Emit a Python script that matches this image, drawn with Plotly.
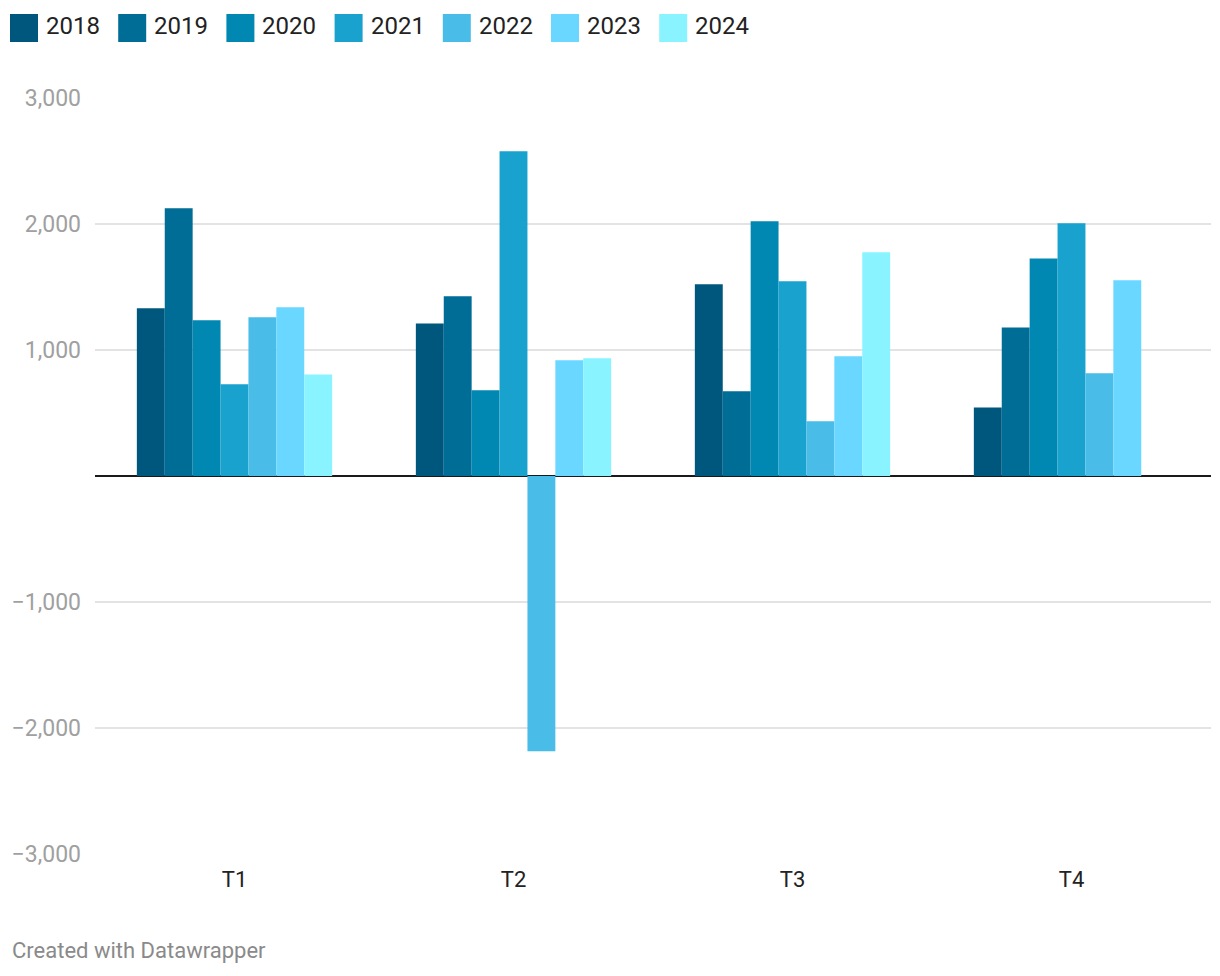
import plotly.graph_objects as go

categories = ["T1", "T2", "T3", "T4"]
years = ["2018", "2019", "2020", "2021", "2022", "2023", "2024"]
colors = ["#00577d", "#006d96", "#0087b2", "#1aa2ce", "#49bce8", "#69d7ff", "#89f4ff"]

v2018 = [1331, 1210, 1522, 543]
v2019 = [2125, 1426, 672, 1179]
v2020 = [1236, 680, 2022, 1727]
v2021 = [728, 2577, 1545, 2005]
v2022 = [1260, -2185, 434, 816]
v2023 = [1339, 918, 950, 1553]
v2024 = [806, 934, 1775, None]
series = [v2018, v2019, v2020, v2021, v2022, v2023, v2024]

y_ticks = [-3000, -2000, -1000, 1000, 2000, 3000]

FONT = "Roboto"
W, H = 1220, 976
PL, PR, PT, PB = 95, 1211, 98, 854
PW, PH = PR - PL, PB - PT


def px(x):
    return (x - PL) / PW


def py(y):
    return (PB - y) / PH


fig = go.Figure()
for name, col, vals in zip(years, colors, series):
    fig.add_trace(go.Bar(
        x=categories, y=vals, name=name,
        marker=dict(color=col, line=dict(width=0)),
        showlegend=False,
    ))

# custom legend (rectangles + labels)
leg_x0, leg_step = 10, 108.2
for i, (name, col) in enumerate(zip(years, colors)):
    x0 = leg_x0 + i * leg_step
    fig.add_shape(type="rect", xref="paper", yref="paper",
                  x0=px(x0), x1=px(x0 + 28),
                  y0=py(42), y1=py(14),
                  fillcolor=col, line=dict(width=0), layer="above")
    fig.add_annotation(text=name, xref="paper", yref="paper",
                       x=px(x0 + 34), y=py(26),
                       xanchor="left", yanchor="middle", showarrow=False,
                       font=dict(family=FONT, size=24, color="#222222"))

fig.add_annotation(text="Created with Datawrapper", xref="paper", yref="paper",
                   x=px(10), y=py(950),
                   xanchor="left", yanchor="middle", showarrow=False,
                   font=dict(family=FONT, size=22, color="#8a8a8a"))

fig.update_layout(
    width=W, height=H,
    margin=dict(l=PL, r=W - PR, t=PT, b=H - PB),
    paper_bgcolor="white", plot_bgcolor="white",
    barmode="group", bargap=0.3, bargroupgap=0,
    font=dict(family=FONT),
    xaxis=dict(showgrid=False, showline=False, ticks="",
               tickfont=dict(family=FONT, size=22, color="#222222"),
               ticklabelstandoff=10),
    yaxis=dict(range=[-3000, 3000], tickvals=y_ticks, tickformat=",",
               showgrid=True, gridcolor="#e3e3e3", gridwidth=1.5,
               zeroline=True, zerolinecolor="#1a1a1a", zerolinewidth=2,
               showline=False, ticks="",
               tickfont=dict(family=FONT, size=23, color="#a0a0a0"),
               ticklabelstandoff=13),
)

fig.write_html("out.html")
